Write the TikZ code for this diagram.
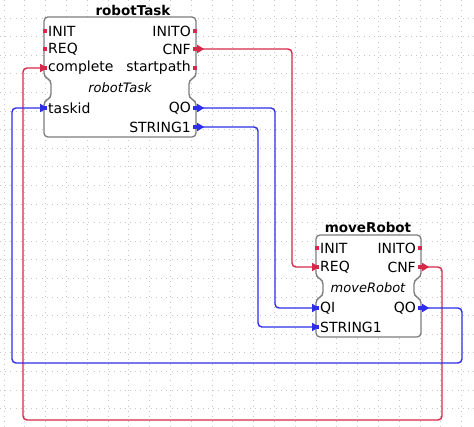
\documentclass[tikz,border=0pt]{standalone}
\usepackage{fontspec}
\setmainfont{DejaVu Sans}
\usetikzlibrary{arrows.meta}
\definecolor{evred}{RGB}{214,40,72}
\definecolor{datablue}{RGB}{45,45,235}
\definecolor{fbgray}{RGB}{125,125,125}
\tikzstyle{fbframe} = [draw=fbgray, line width=1.3, rounded corners=4, fill=white]
\tikzstyle{fbtitle} = [inner sep=0, font={\fontsize{13.5}{15}\selectfont\bfseries}]
\tikzstyle{fbinst} = [inner sep=0, font={\fontsize{13}{15}\selectfont\itshape}]
\tikzstyle{inlbl} = [anchor=west, inner sep=0, font={\fontsize{14}{15}\selectfont}]
\tikzstyle{outlbl} = [anchor=east, inner sep=0, font={\fontsize{14}{15}\selectfont}]
\tikzstyle{evpin} = [fill=evred, inner sep=0, minimum width=4, minimum height=4]
\tikzstyle{datapin} = [evpin, fill=datablue]
\tikzstyle{evline} = [draw=evred, line width=1.4, rounded corners=4, {Triangle[reversed,length=7,width=8]}-{Triangle[length=7,width=8]}]
\tikzstyle{dataline} = [evline, draw=datablue]
\tikzstyle{grid} = [draw=gray!45, line width=0.8, dash pattern=on 0.9pt off 4.3pt]

\begin{document}
\begin{tikzpicture}[x=1pt,y=-1pt]
        \useasboundingbox[fill=white] (0,0) rectangle (474,427);
        \foreach \gx in {0,...,22} \draw[grid] (4+20.8*\gx,0) -- (4+20.8*\gx,427);
        \foreach \gy in {0,...,22} \draw[grid] (0,-0.5+18.6*\gy) -- (474,-0.5+18.6*\gy);
        % robotTask
        \draw[fbframe] (44,17) -- (196,17) -- (196,77) -- (189,80) -- (189,98) -- (196,101) -- (196,137)
          -- (44,137) -- (44,101) -- (51,98) -- (51,80) -- (44,77) -- cycle;
        \node[fbtitle](rt) at (133,10){robotTask};
        \node[fbinst](rt-inst) at (120,88){robotTask};
        \node[inlbl](rt-INIT-l) at (48,31){INIT};
        \node[inlbl](rt-REQ-l) at (48,49){REQ};
        \node[inlbl](rt-complete-l) at (48,68){complete};
        \node[inlbl](rt-taskid-l) at (48,108){taskid};
        \node[outlbl](rt-INITO-l) at (191,31){INITO};
        \node[outlbl](rt-CNF-l) at (191,49){CNF};
        \node[outlbl](rt-startpath-l) at (191,68){startpath};
        \node[outlbl](rt-QO-l) at (191,108){QO};
        \node[outlbl](rt-STRING1-l) at (191,127){STRING1};
        \node[evpin](rt-INIT) at (45,31){};
        \node[evpin](rt-REQ) at (45,49){};
        \node[evpin](rt-complete) at (45,68){};
        \node[datapin](rt-taskid) at (45,108){};
        \node[evpin](rt-INITO) at (195,31){};
        \node[evpin](rt-CNF) at (195,49){};
        \node[evpin](rt-startpath) at (195,68){};
        \node[datapin](rt-QO) at (195,108){};
        \node[datapin](rt-STRING1) at (195,127){};
        % moveRobot
        \draw[fbframe] (316,235) -- (421,235) -- (421,277) -- (414,280) -- (414,296) -- (421,299) -- (421,337)
          -- (316,337) -- (316,299) -- (323,296) -- (323,280) -- (316,277) -- cycle;
        \node[fbtitle](mr) at (368,227){moveRobot};
        \node[fbinst](mr-inst) at (368,288){moveRobot};
        \node[inlbl](mr-INIT-l) at (320,248){INIT};
        \node[inlbl](mr-REQ-l) at (320,267){REQ};
        \node[inlbl](mr-QI-l) at (320,308){QI};
        \node[inlbl](mr-STRING1-l) at (320,327){STRING1};
        \node[outlbl](mr-INITO-l) at (416,248){INITO};
        \node[outlbl](mr-CNF-l) at (416,267){CNF};
        \node[outlbl](mr-QO-l) at (416,308){QO};
        \node[evpin](mr-INIT) at (317,248){};
        \node[evpin](mr-REQ) at (317,267){};
        \node[datapin](mr-QI) at (317,308){};
        \node[datapin](mr-STRING1) at (317,327){};
        \node[evpin](mr-INITO) at (420,248){};
        \node[evpin](mr-CNF) at (420,267){};
        \node[datapin](mr-QO) at (420,308){};
        % connections
        \draw[evline](rt-CNF.east)--(292,49)--(292,267)--(mr-REQ.east);
        \draw[evline](mr-CNF.east)--(442,267)--(442,420)--(23,420)--(23,68)--(rt-complete.east);
        \draw[dataline](rt-QO.east)--(275,108)--(275,308)--(mr-QI.east);
        \draw[dataline](rt-STRING1.east)--(258,127)--(258,327)--(mr-STRING1.east);
        \draw[dataline](mr-QO.east)--(462,308)--(462,363)--(12,363)--(12,108)--(rt-taskid.east);
      \end{tikzpicture}
\end{document}
